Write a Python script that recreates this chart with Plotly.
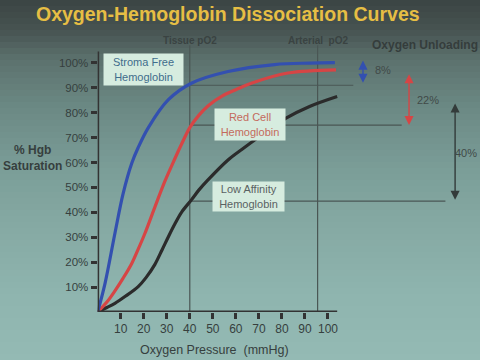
import plotly.graph_objects as go

# ---------------- data ----------------
blue_x = [0, 3.2, 7.5, 11.1, 14.8, 17.6, 22, 30.6, 40.7, 56.6, 76.8, 92, 103]
blue_y = [0, 11.5, 31.6, 47.7, 59.7, 66, 74, 85.1, 91.8, 96.5, 99.3, 99.9, 100.1]

red_x = [0, 4, 7.5, 11, 14.8, 17.5, 20.5, 24.8, 29.2, 33.5, 36.5, 40, 44, 48, 54, 60, 66.7, 82.6, 103.5]
red_y = [0, 4, 8.5, 13.5, 19.5, 25, 31.5, 42, 52.5, 61.5, 67.5, 74, 79, 82.8, 86.6, 89.2, 91.8, 95.9, 97.2]

black_x = [0, 4, 7.5, 12, 17.6, 21, 24.8, 28, 30.6, 33.5, 36.4, 40.7, 44, 47.9, 56.6, 63, 70, 81.8, 92, 104]
black_y = [0, 1.8, 3.5, 6.3, 10.2, 13.8, 19, 25, 30, 35.3, 40, 45, 49, 53, 61, 65.5, 70.2, 77.8, 82.5, 86.5]

x_ticks = [10, 20, 30, 40, 50, 60, 70, 80, 90, 100]
x_tick_labels = [str(v) for v in x_ticks]
y_ticks = [10, 20, 30, 40, 50, 60, 70, 80, 90, 100]
y_tick_labels = [f"{v}%" for v in y_ticks]

tissue_po2 = 40
arterial_po2 = 95.5
sat_at_tissue = [91, 75, 44.5]          # blue, red, black at tissue pO2
line_right_end = [111, 132, 151]        # extent of reference lines
unload_x = [115.2, 135.2, 155.2]
unload_top = [101.5, 96, 84.3]
unload_bottom = [92, 75, 45]
unload_labels = ["8%", "22%", "40%"]

W, H = 480, 360
def px(x):
    return x / W
def py(y):
    return 1 - y / H

# ---------------- figure ----------------
fig = go.Figure()

BLUE = "#3350b0"
RED = "#d64545"
BLACK = "#2b2b2b"
TXT = "#363f3e"
LINE = "#4a5654"

for xs, ys, c in ((black_x, black_y, BLACK), (red_x, red_y, RED), (blue_x, blue_y, BLUE)):
    fig.add_trace(go.Scatter(x=xs, y=ys, mode="lines",
                             line=dict(color=c, width=3.2, shape="spline", smoothing=1.0),
                             hoverinfo="skip", cliponaxis=False))

shapes = []
# background gradient
stops = [(0, (0x3b, 0x45, 0x44)), (30, (0x47, 0x53, 0x51)), (60, (0x5c, 0x72, 0x6e)),
         (110, (0x6c, 0x8a, 0x85)), (170, (0x7b, 0x9e, 0x98)), (230, (0x86, 0xaa, 0xa4)),
         (300, (0x8f, 0xb5, 0xaf)), (360, (0x94, 0xba, 0xb4))]
def col_at(y):
    for (y0, c0), (y1, c1) in zip(stops[:-1], stops[1:]):
        if y0 <= y <= y1:
            t = (y - y0) / (y1 - y0)
            return "rgb(%d,%d,%d)" % tuple(round(a + (b - a) * t) for a, b in zip(c0, c1))
    return "rgb(%d,%d,%d)" % stops[-1][1]
step = 6
for y in range(0, H, step):
    shapes.append(dict(type="rect", xref="paper", yref="paper", x0=0, x1=1,
                       y0=py(y + step), y1=py(y), fillcolor=col_at(y + step / 2),
                       line=dict(width=0), layer="below"))

# axis lines
shapes.append(dict(type="line", xref="x", yref="y", x0=0, x1=104, y0=0, y1=0, line=dict(color="#333", width=3)))
shapes.append(dict(type="line", xref="x", yref="y", x0=0, x1=0, y0=0, y1=104.5, line=dict(color="#333", width=3)))
# vertical reference lines
for xv in (tissue_po2, arterial_po2):
    shapes.append(dict(type="line", xref="x", yref="y", x0=xv, x1=xv, y0=0, y1=107, line=dict(color=LINE, width=1.2), layer="below"))
# horizontal reference lines
for yv, xe in zip(sat_at_tissue, line_right_end):
    shapes.append(dict(type="line", xref="x", yref="y", x0=tissue_po2, x1=xe, y0=yv, y1=yv, line=dict(color=LINE, width=1.2), layer="below"))

def ann(**kw):
    d = dict(showarrow=False, xanchor="center", yanchor="middle")
    d.update(kw)
    return d

annotations = []
# title
annotations.append(ann(xref="paper", yref="paper", x=px(228), y=py(14), text="<b>Oxygen-Hemoglobin Dissociation Curves</b>",
                       font=dict(family="Liberation Sans", size=19.5, color="#e6be44")))
annotations.append(ann(xref="x", yref="paper", x=tissue_po2, y=py(40), text="<b>Tissue pO2</b>",
                       font=dict(family="Liberation Sans", size=10, color="#3a4342")))
annotations.append(ann(xref="x", yref="paper", x=arterial_po2, y=py(40), text="<b>Arterial  pO2</b>",
                       font=dict(family="Liberation Sans", size=10, color="#3a4342")))
annotations.append(ann(xref="paper", yref="paper", x=px(425), y=py(45), text="<b>Oxygen Unloading</b>",
                       font=dict(family="Liberation Sans", size=12, color="#353d3c")))
annotations.append(ann(xref="paper", yref="paper", x=px(32), y=py(158), text="<b>% Hgb<br>Saturation</b>",
                       align="center", font=dict(family="Liberation Sans", size=12, color=TXT)))
annotations.append(ann(xref="paper", yref="paper", x=px(214), y=py(350), text="Oxygen Pressure  (mmHg)",
                       font=dict(family="Liberation Sans", size=12.5, color=TXT)))

# curve labels
boxes = [("Stroma Free<br>Hemoglobin", 143.5, 69.5, 79, 31, "#3f6d8c"),
         ("Red Cell<br>Hemoglobin", 250, 124.5, 70, 31, "#c46a5c"),
         ("Low Affinity<br>Hemoglobin", 248.5, 196.5, 71, 29, "#5a6262")]
for text, cx, cy, w, h, c in boxes:
    annotations.append(ann(xref="paper", yref="paper", x=px(cx), y=py(cy), text=text,
                           width=w, height=h, bgcolor="#d6ecdf", borderpad=0, align="center",
                           font=dict(family="Liberation Sans", size=11, color=c)))

# unloading arrows
arrow_cols = [BLUE, RED, "#333b3a"]
label_pos = [(383, 70), (428, 100), (466, 153)]
for xa, yt, yb, lab, c, (lx, ly) in zip(unload_x, unload_top, unload_bottom, unload_labels, arrow_cols, label_pos):
    annotations.append(dict(xref="x", yref="y", axref="x", ayref="y", x=xa, y=yb, ax=xa, ay=yt, text="",
                            showarrow=True, arrowhead=2, arrowside="end+start", arrowsize=1.3, arrowwidth=1.4,
                            arrowcolor=c))
    annotations.append(ann(xref="paper", yref="paper", x=px(lx), y=py(ly), text=lab,
                           font=dict(family="Liberation Sans", size=11, color="#414a48")))

fig.update_layout(
    width=W, height=H, margin=dict(l=0, r=0, t=0, b=0),
    paper_bgcolor="#6c8a85", plot_bgcolor="rgba(0,0,0,0)",
    showlegend=False, shapes=shapes, annotations=annotations,
    xaxis=dict(domain=[px(97.67), px(470)], range=[0, (470 - 97.67) / 2.303], showgrid=False, zeroline=False,
               showline=False, tickmode="array", tickvals=x_ticks, ticktext=x_tick_labels,
               ticks="outside", ticklen=6, tickwidth=2.5, tickcolor="#333",
               tickfont=dict(family="Liberation Sans", size=12, color=TXT), fixedrange=True),
    yaxis=dict(domain=[py(312), py(44)], range=[0, (312 - 44) / 2.492], showgrid=False, zeroline=False,
               showline=False, tickmode="array", tickvals=y_ticks, ticktext=y_tick_labels,
               ticks="outside", ticklen=6, tickwidth=2.5, tickcolor="#333",
               tickfont=dict(family="Liberation Sans", size=11.5, color=TXT), fixedrange=True),
)

fig.write_html("out.html", config={"displayModeBar": False},
               post_script="document.body.style.margin='0';document.body.style.overflow='hidden';")
